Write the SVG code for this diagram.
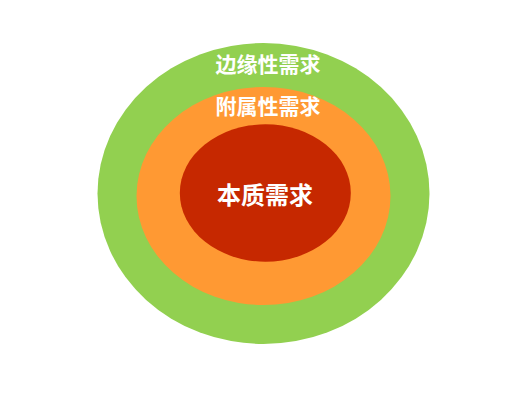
<svg xmlns="http://www.w3.org/2000/svg" width="526" height="400" viewBox="0 0 526 400">
<style>
.t{font-family:"Noto Sans CJK SC","Liberation Sans",sans-serif;font-weight:bold;fill:#ffffff;text-anchor:middle}
</style>
<rect width="526" height="400" fill="#ffffff"/>
<g id="outer">
<ellipse cx="263.5" cy="193.5" rx="166" ry="150.5" fill="#92D050"/>
<text class="t" x="268" y="72" font-size="21">边缘性需求</text>
</g>
<g id="middle">
<ellipse cx="263.5" cy="196" rx="127" ry="109" fill="#FF9933"/>
<text class="t" x="268" y="114" font-size="21">附属性需求</text>
</g>
<g id="inner">
<ellipse cx="265.3" cy="193" rx="85.5" ry="68.7" fill="#C62800"/>
<text class="t" x="265" y="203.5" font-size="24">本质需求</text>
</g>
<g id="connectors"/>
</svg>
